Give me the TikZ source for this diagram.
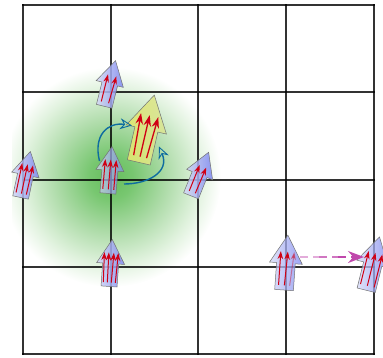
\documentclass[tikz,border=0pt]{standalone}
\usetikzlibrary{arrows.meta}
\definecolor{spinblue}{RGB}{122,132,240}
\definecolor{spinpale}{RGB}{214,218,246}
\definecolor{spinyellow}{RGB}{226,232,110}
\definecolor{spinyellowb}{RGB}{216,228,150}
\definecolor{vecred}{RGB}{208,0,20}
\definecolor{curveblue}{RGB}{14,108,160}
\definecolor{hopmagenta}{RGB}{192,72,172}
\pgfdeclareradialshading{greenglow}{\pgfpoint{0bp}{0bp}}{%
  rgb(0bp)=(0.40,0.74,0.36);
  rgb(5bp)=(0.47,0.78,0.44);
  rgb(12.5bp)=(0.68,0.86,0.66);
  rgb(20bp)=(0.88,0.95,0.87);
  rgb(25bp)=(1,1,1);
  rgb(50bp)=(1,1,1)}
\tikzset{
  gridline/.style={line width=1.5pt, black, opacity=0.8, line cap=rect},
  spinbody/.style={transform shape, draw=black!55, line width=0.5pt, fill opacity=0.85,
    left color=spinpale, right color=spinblue},
  hostbody/.style={transform shape, draw=black!55, line width=0.5pt, fill opacity=0.9,
    left color=spinyellow, right color=spinyellowb},
  vecarrow/.style={-{Stealth[length=8pt,width=5.5pt]}, vecred, line width=1pt},
  bigvec/.style={-{Stealth[length=11pt,width=7.5pt]}, vecred, line width=1.3pt},
  curvearrow/.style={-{Stealth[open,length=12pt,width=11pt,line width=0.9pt]}, curveblue, line width=1.4pt},
  hopline/.style={hopmagenta, line width=1.7pt, dash pattern=on 8pt off 5pt},
  spin/.pic={
    \path[pic actions] (0,-23) -- (14,1) -- (8,1) -- (8,24) -- (-8,24) -- (-8,1) -- (-14,1) -- cycle;
  },
}
\begin{document}
\begin{tikzpicture}[x=1pt,y=-1pt]
  \useasboundingbox (0,0) rectangle (383,357);
  \clip (0,0) rectangle (383,357);

  % Glow
  \begin{scope}
    \clip (12,0) rectangle (383,357);
    \path[shading=greenglow] (111,177) circle (110);
  \end{scope}

  % Lattice
  \foreach \gx in {23,111,198,286,374}
    \draw[gridline] (\gx,5) -- (\gx,354);
  \foreach \gy in {5,92,180,267,354}
    \draw[gridline] (23,\gy) -- (374,\gy);

  % Spins
  \begin{scope}[shift={(110,83)},rotate=-14]
    \pic[spinbody] {spin};
    \draw[vecarrow] (-4,20) -- (-4,-8);
    \draw[vecarrow] (3.5,20) -- (4.5,-8);
  \end{scope}
  \begin{scope}[shift={(25.6,174)},rotate=-12]
    \pic[spinbody] {spin};
    \draw[vecarrow] (-5.5,20) -- (-5.5,-10);
    \draw[vecarrow] (0,20) -- (0,-10);
    \draw[vecarrow] (5,20) -- (5.5,-10);
  \end{scope}
  \begin{scope}[shift={(200,173.6)},rotate=-22]
    \pic[spinbody] {spin};
    \draw[vecarrow] (-3.5,20) -- (-3.5,-8);
    \draw[vecarrow] (3,20) -- (3.5,-8);
  \end{scope}
  \begin{scope}[shift={(110.7,262.5)},rotate=-4]
    \pic[spinbody] {spin};
    \draw[vecarrow] (-6,20) -- (-7,-10);
    \draw[vecarrow] (-2,20) -- (-2.5,-10);
    \draw[vecarrow] (2,20) -- (2.5,-10);
    \draw[vecarrow] (6,20) -- (7,-10);
  \end{scope}
  \begin{scope}[shift={(110,169.5)},rotate=-5]
    \pic[spinbody,fill opacity=0.7] {spin};
    \draw[vecarrow] (-5.5,20) -- (-5.5,-10);
    \draw[vecarrow] (0,20) -- (0,-10);
    \draw[vecarrow] (5.5,20) -- (5.5,-10);
  \end{scope}
  \begin{scope}[shift={(146.7,128)},rotate=-13,scale=1.47]
    \pic[hostbody] {spin};
    \draw[bigvec] (-4.5,20) -- (-6,-9);
    \draw[bigvec] (0,20) -- (0,-9);
    \draw[bigvec] (4.5,20) -- (6,-9);
  \end{scope}
  \begin{scope}[shift={(286,262)},rotate=-4,scale=1.17]
    \pic[spinbody,fill opacity=0.75] {spin};
    \draw[vecarrow] (-5,20) -- (-5,-9);
    \draw[vecarrow] (0,20) -- (1,-9);
    \draw[vecarrow,opacity=0.4] (4.5,20) -- (6.5,-9);
  \end{scope}
  \begin{scope}[shift={(373,263)},rotate=-14,scale=1.17]
    \pic[spinbody,fill opacity=0.75] {spin};
    \draw[vecarrow] (-6,20) -- (-6,-9);
    \draw[vecarrow] (0,20) -- (0,-9);
    \draw[vecarrow] (6,20) -- (6,-9);
  \end{scope}

  % Exchange curves
  \coordinate (lowstart) at (99.5,161);
  \coordinate (lowend) at (132,125.5);
  \coordinate (sidestart) at (124,184);
  \coordinate (sideend) at (159,146.5);
  \draw[curvearrow] (lowstart) .. controls (93,135) and (108,122) .. (lowend);
  \draw[curvearrow] (sidestart) .. controls (148,184) and (170,172) .. (sideend);

  % Hop
  \coordinate (hopstart) at (300,257);
  \coordinate (hopmid) at (319,257);
  \coordinate (hopnext) at (338,257);
  \coordinate (hopend) at (364,257);
  \draw[hopline, opacity=0.45] (hopstart) -- (hopmid);
  \draw[hopline, opacity=0.75] (hopmid) -- (hopnext);
  \draw[hopline, -{Stealth[length=16pt,width=12pt]}] (hopnext) -- (hopend);
\end{tikzpicture}
\end{document}
